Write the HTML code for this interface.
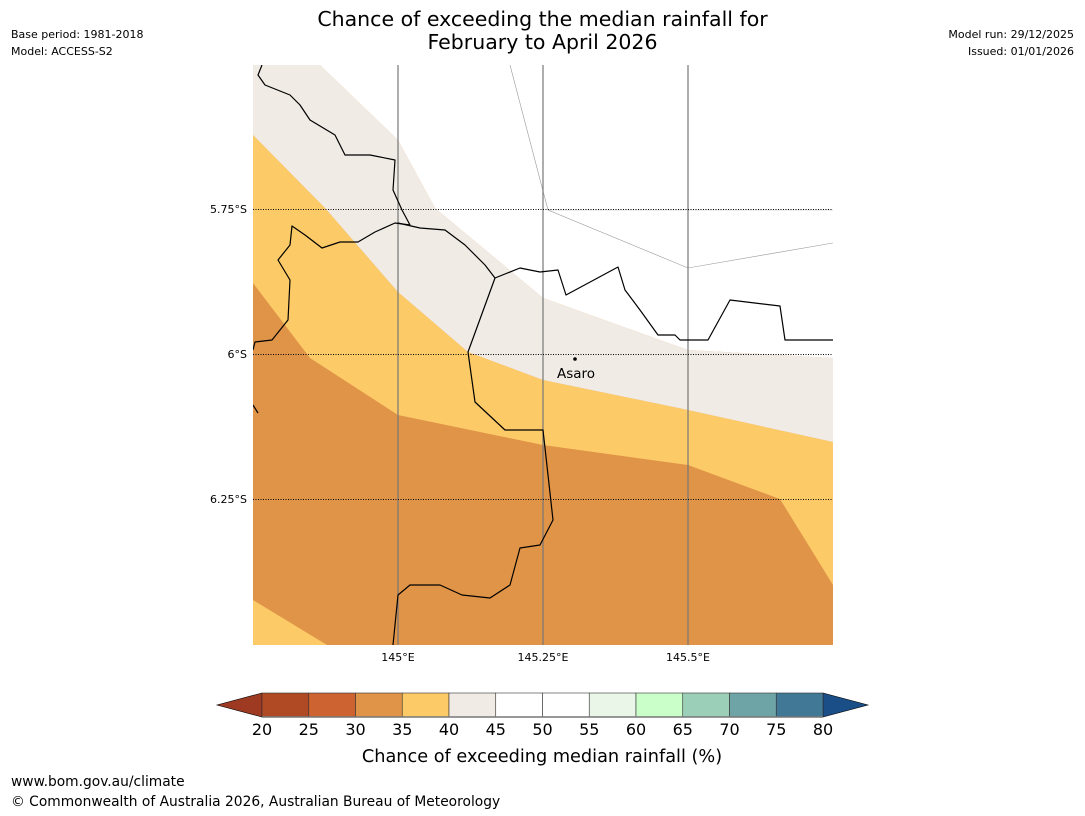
<!DOCTYPE html>
<html><head><meta charset="utf-8">
<style>
body{margin:0;background:#fff;font-family:"DejaVu Sans","Liberation Sans",sans-serif;}
#wrap{position:relative;width:1085px;height:816px;overflow:hidden;}
.t{position:absolute;color:#000;}
svg text{font-family:"DejaVu Sans","Liberation Sans",sans-serif;}
</style></head>
<body>
<div id="wrap">
<div class="t" style="left:0;width:1085px;top:8px;text-align:center;font-size:20.5px;line-height:23px;">Chance of exceeding the median rainfall for<br>February to April 2026</div>
<div class="t" style="left:11px;top:26px;font-size:11px;line-height:17px;">Base period: 1981-2018<br>Model: ACCESS-S2</div>
<div class="t" style="right:11px;top:26px;font-size:11px;line-height:17px;text-align:right;">Model run: 29/12/2025<br>Issued: 01/01/2026</div>
<div class="t" style="left:11px;top:774px;font-size:13.8px;">www.bom.gov.au/climate</div>
<div class="t" style="left:11px;top:794px;font-size:13.8px;">© Commonwealth of Australia 2026, Australian Bureau of Meteorology</div>
<svg id="svg" width="1085" height="816" style="position:absolute;left:0;top:0">
<defs><clipPath id="mc"><rect x="253" y="65" width="580" height="580"/></clipPath></defs>
<g clip-path="url(#mc)">
<rect x="253" y="65" width="580" height="580" fill="#e09448"/>
<polygon fill="#fdca68" points="253,135 325,208 398,292 468,352 543,380 688,410 833,442 833,585 780,499 688,465 543,445 398,415 310,358 253,283"/>
<polygon fill="#fdca68" points="253,600 253,645 327,645"/>
<polygon fill="#f0ebe5" points="253,65 320,65 398,140 435,208 543,298 688,350 833,358 833,442 688,410 543,380 468,352 398,292 325,208 253,135"/>
<polygon fill="#ffffff" points="320,65 833,65 833,358 688,350 543,298 435,208 398,140"/>
<polyline fill="none" stroke="#999" stroke-width="0.6" points="510,65 548,210 688,268 833,243"/>
<line x1="548" y1="210" x2="833" y2="210" stroke="#bbb" stroke-width="0.5"/>
<g stroke="#777" stroke-width="1.2">
<line x1="398" y1="65" x2="398" y2="645"/><line x1="543" y1="65" x2="543" y2="645"/><line x1="688" y1="65" x2="688" y2="645"/></g>
<g stroke="#000" stroke-width="1" stroke-dasharray="1,1.5">
<line x1="253" y1="209.5" x2="833" y2="209.5"/><line x1="253" y1="354.5" x2="833" y2="354.5"/><line x1="253" y1="499.5" x2="833" y2="499.5"/></g>
<g fill="none" stroke="#000" stroke-width="1.2" stroke-linejoin="round">
<polyline points="262,65 258,75 265,85 290,95 300,105 310,120 335,135 345,155 370,155 395,160 393,190 402,210 410,225 395,223 375,232 358,242 340,242 322,248 305,235 292,226 290,245 278,260 290,280 288,320 272,340 255,342 253,350"/>
<polyline points="398,223 420,228 445,230 465,245 485,265 495,278 520,268 540,272 558,270 566,295 618,267 625,290 640,310 658,335 675,335 680,340 708,340 730,300 780,306 785,340 833,340"/>
<polyline points="495,278 468,352 475,402 505,430 543,430 553,520 540,545 520,548 510,585 490,598 462,595 440,585 410,585 398,595 393,645"/>
<polyline points="253,405 258,413"/>
</g>
<circle cx="575" cy="359" r="1.8" fill="#000"/>
<text x="557" y="378" font-size="13.5">Asaro</text>
</g>
<g font-size="11">
<text x="247" y="213" text-anchor="end">5.75°S</text>
<text x="247" y="358" text-anchor="end">6°S</text>
<text x="247" y="503" text-anchor="end">6.25°S</text>
<text x="398" y="661" text-anchor="middle">145°E</text>
<text x="543" y="661" text-anchor="middle">145.25°E</text>
<text x="688" y="661" text-anchor="middle">145.5°E</text>
</g>
<g id="cbar"></g>
<text x="542" y="762" font-size="17.7" text-anchor="middle">Chance of exceeding median rainfall (%)</text>
</svg>
</div>
<script>
const binEdges=[20,25,30,35,40,45,50,55,60,65,70,75,80];
const binColors=["#b04a25","#cc6330","#e09448","#fdca68","#f0ebe5","#ffffff","#ffffff","#eaf6e8","#caffca","#9ccfb8","#6ea4a6","#417896"];
const tickLabels=["20","25","30","35","40","45","50","55","60","65","70","75","80"];
const extLow="#9e3a22", extHigh="#1a4e86";
const ns="http://www.w3.org/2000/svg";
const g=document.getElementById('cbar');
const x0=262,x1=823,y0=693,y1=717;
const sx=v=>x0+(v-binEdges[0])/(binEdges[binEdges.length-1]-binEdges[0])*(x1-x0);
function mk(t,a){const e=document.createElementNS(ns,t);for(const k in a)e.setAttribute(k,a[k]);g.appendChild(e);return e;}
let p=mk('polygon',{points:`${x0},${y0} ${x0},${y1} 217,${(y0+y1)/2}`,fill:extLow,stroke:'#000','stroke-width':0.6});


p=mk('polygon',{points:`${x1},${y0} ${x1},${y1} 868,${(y0+y1)/2}`,fill:extHigh,stroke:'#000','stroke-width':0.6});


for(let i=0;i<binColors.length;i++){
  const a=sx(binEdges[i]),b=sx(binEdges[i+1]);
  const r=mk('rect',{x:a,y:y0,width:b-a,height:y1-y0,fill:binColors[i],stroke:'#333','stroke-width':0.6});
  
  
}
mk('line',{x1:x0,y1:y1,x2:x1,y2:y1,stroke:'#777','stroke-width':1.5});
binEdges.forEach((v,i)=>{
  const t=mk('text',{x:sx(v),y:735,'font-size':16,'text-anchor':'middle'});
  t.textContent=tickLabels[i];
  
  
});
</script>
</body></html>
